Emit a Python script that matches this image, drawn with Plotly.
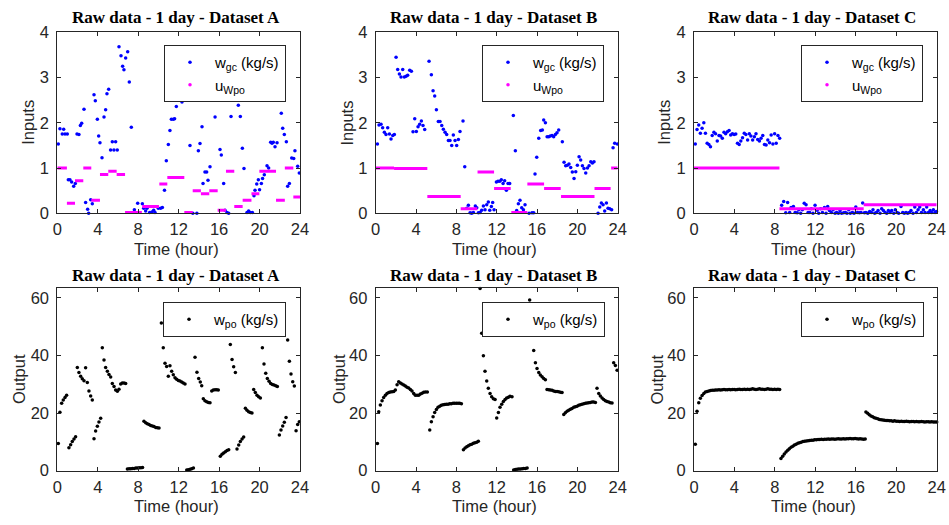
import plotly.graph_objects as go

# ---------------- data ----------------
TITLES = ["Raw data - 1 day - Dataset A", "Raw data - 1 day - Dataset B", "Raw data - 1 day - Dataset C"]
X_TICKS = [0, 4, 8, 12, 16, 20, 24]
Y_TICKS_IN = [0, 1, 2, 3, 4]
Y_TICKS_OUT = [0, 20, 40, 60]

# Dataset A
A_GC_T = [0.10,0.26,0.49,0.63,0.76,0.99,1.09,1.25,1.42,1.62,1.78,1.95,2.14,2.28,2.41,2.64,2.80,3.00,3.10,3.30,
          3.46,3.63,3.76,3.96,4.09,4.22,4.42,4.62,4.78,4.91,5.08,5.27,5.44,5.60,5.77,5.93,6.10,6.30,6.46,6.59,
          6.76,6.96,7.12,7.32,7.62,7.95,8.41,8.54,8.74,8.87,9.13,9.36,9.53,9.66,9.99,10.22,10.39,10.60,10.78,10.98,
          11.14,11.28,11.47,11.60,11.77,12.33,13.12,13.40,13.80,13.95,14.11,14.31,14.41,14.60,14.77,14.90,15.10,15.60,16.09,16.22,
          16.45,16.58,16.78,16.95,17.18,17.90,18.10,18.30,18.46,18.76,18.92,19.09,19.29,19.45,19.55,19.72,19.88,20.00,20.18,20.30,
          20.47,20.74,20.90,21.10,21.23,21.36,21.53,21.73,22.15,22.29,22.45,22.65,22.78,22.95,23.18,23.38,23.50,23.77,23.93]
A_GC_V = [1.53,1.87,1.75,1.86,1.75,1.75,0.74,0.74,0.69,0.60,0.66,1.75,1.74,1.94,1.99,2.30,0.24,0.09,0.00,0.30,
          0.21,2.62,2.49,2.08,1.71,1.56,1.23,2.13,2.29,2.64,2.74,1.40,1.58,1.40,1.58,1.40,3.68,3.48,3.25,3.17,
          3.43,3.57,2.90,1.90,0.08,0.22,0.21,0.11,0.05,0.11,0.02,0.03,0.07,0.02,0.11,0.11,0.13,0.51,1.16,1.52,
          1.83,2.08,2.08,2.09,2.36,2.46,1.50,0.00,0.00,1.38,1.54,1.91,0.66,0.91,0.91,0.73,1.03,2.13,1.41,1.29,
          0.66,0.07,0.02,0.00,2.14,2.39,2.14,1.44,0.99,0.02,0.05,0.02,0.02,0.39,0.51,0.65,0.74,0.52,0.66,0.77,
          0.85,1.05,1.00,1.57,1.55,1.57,1.47,1.56,2.21,1.88,1.74,1.58,0.60,0.66,1.22,1.21,1.38,1.04,0.89]
A_U_START = [0.00,0.95,1.75,2.57,3.36,4.22,5.04,5.87,6.70,8.40,10.09,10.88,12.56,13.39,14.20,15.03,15.86,16.68,17.50,18.33,19.20,19.98,21.63,22.50,23.34]
A_U_END   = [0.95,1.75,2.57,3.36,4.22,5.04,5.87,6.70,8.36,10.05,10.88,12.56,13.39,14.20,15.03,15.86,16.68,17.50,18.33,19.20,19.98,21.63,22.50,23.34,24.00]
A_U_VAL   = [1.00,0.22,0.72,1.00,0.29,0.86,0.93,0.86,0.02,0.15,0.65,0.79,0.02,0.50,0.43,0.50,0.07,0.93,0.15,0.29,0.43,0.93,0.29,1.00,0.36]
A_PO_T = [0.10,0.26,0.43,0.59,0.76,0.92,1.15,1.32,1.48,1.65,1.81,1.98,2.14,2.31,2.47,2.64,2.80,2.97,3.13,3.30,
          3.46,3.63,3.79,3.96,4.12,4.29,4.45,4.62,4.78,4.95,5.11,5.28,5.44,5.61,5.77,5.94,6.10,6.27,6.43,6.60,
          6.76,6.93,7.10,7.27,7.43,7.60,7.77,7.93,8.10,8.27,8.43,8.57,8.74,8.90,9.07,9.23,9.40,9.56,9.73,9.89,
          10.06,10.29,10.48,10.65,10.81,10.98,11.14,11.31,11.47,11.64,11.80,11.97,12.13,12.30,12.46,12.63,12.80,12.96,13.13,13.29,
          13.46,13.62,13.81,13.98,14.14,14.28,14.44,14.60,14.77,14.94,15.10,15.27,15.43,15.60,15.76,15.92,16.12,16.29,16.45,16.62,
          16.78,16.95,17.11,17.28,17.44,17.61,17.77,17.94,18.10,18.27,18.43,18.60,18.76,18.92,19.09,19.25,19.42,19.58,19.75,19.91,
          20.08,20.28,20.44,20.61,20.77,20.94,21.10,21.27,21.43,21.60,21.76,21.96,22.12,22.29,22.45,22.62,22.78,22.95,23.11,23.28,
          23.44,23.61,23.77,23.93]
A_PO_V = [9.4,20.3,23.4,24.5,25.4,26.2,8.0,9.0,10.1,11.0,11.8,35.8,34.1,32.8,31.9,31.2,35.7,30.6,27.7,25.9,
          24.5,11.1,13.8,15.4,16.9,18.2,42.7,38.4,35.8,34.5,33.4,32.5,30.3,29.2,28.0,27.6,28.3,30.1,30.4,30.4,
          30.3,0.6,0.7,0.7,0.8,0.8,0.9,0.9,1.0,1.0,1.1,17.2,16.6,16.3,16.0,15.7,15.5,15.3,15.0,14.9,
          14.8,51.3,42.7,37.3,36.2,32.8,36.4,34.5,33.3,32.3,31.7,31.3,31.1,30.8,30.4,30.1,0.2,0.3,0.5,0.7,
          0.9,39.4,34.2,32.0,30.8,29.5,25.0,24.3,23.9,23.7,23.6,27.7,28.0,28.1,28.1,28.0,5.0,5.7,6.1,6.6,
          7.0,7.3,43.8,38.6,36.1,34.1,7.5,8.9,10.1,11.0,11.7,21.7,21.0,20.5,20.2,20.0,28.2,27.1,26.2,25.7,
          25.2,42.7,37.0,33.8,32.0,31.0,30.3,29.9,29.7,29.5,29.2,12.4,14.1,15.5,16.8,18.5,45.4,38.0,33.6,30.9,
          29.4,13.9,16.0,17.0]

# Dataset B
B_GC_T = [0.17,0.33,0.53,0.69,0.86,1.02,1.19,1.36,1.52,1.69,1.85,2.02,2.18,2.35,2.51,2.68,2.84,3.01,3.17,3.37,
          3.54,3.70,3.87,4.03,4.20,4.36,4.53,4.69,4.86,5.29,5.52,5.69,5.85,6.02,6.21,6.38,6.55,6.71,6.88,7.04,
          7.21,7.37,7.54,7.70,7.87,8.03,8.20,8.36,8.66,8.83,9.03,9.19,9.36,9.52,9.69,9.88,10.02,10.18,10.35,10.51,
          10.68,10.84,11.01,11.17,11.31,11.47,11.60,11.74,11.97,12.13,12.30,12.46,12.63,12.79,12.96,13.12,13.29,13.65,13.85,13.98,
          14.15,14.31,14.48,14.65,14.81,15.21,15.50,15.67,15.80,15.97,16.17,16.36,16.53,16.66,16.83,17.00,17.16,17.32,17.49,17.65,
          17.82,17.98,18.15,18.51,18.68,18.84,19.01,19.17,19.34,19.50,19.67,19.84,20.00,20.17,20.33,20.50,20.66,20.83,21.00,21.16,
          21.33,21.49,21.65,22.05,22.22,22.38,22.55,22.71,22.88,23.04,23.21,23.40,23.54,23.70,23.97]
B_GC_V = [1.53,1.95,1.97,1.89,1.79,1.74,1.89,1.75,1.64,1.72,1.74,3.45,3.18,3.08,3.01,3.18,3.01,3.03,3.05,3.16,
          3.14,1.80,2.09,1.81,1.91,1.97,2.04,1.94,1.85,3.36,3.06,2.71,2.59,2.29,2.03,2.03,1.94,1.86,1.79,1.74,
          1.61,1.61,1.50,1.73,1.61,1.50,1.63,1.81,2.04,1.03,0.11,0.18,0.01,0.00,0.02,0.16,0.12,0.01,0.02,0.07,
          0.16,0.08,0.19,0.25,0.07,0.15,0.24,0.08,0.69,0.71,0.71,0.74,0.66,0.72,0.51,0.66,0.66,2.16,1.38,0.06,
          0.21,0.29,0.12,0.08,0.19,0.00,0.01,0.01,0.87,1.24,1.66,1.83,1.84,2.06,2.00,1.69,1.69,1.71,1.72,1.69,
          1.74,1.78,1.84,1.58,1.13,1.05,1.06,1.09,1.01,0.91,0.77,0.92,1.06,1.25,1.18,1.05,0.99,0.89,1.00,1.05,
          1.14,1.11,1.14,0.00,0.14,0.23,0.19,0.05,0.23,0.11,0.10,0.08,1.45,1.55,1.53]
B_U_START = [0.00,1.82,5.12,8.43,10.10,11.74,13.45,15.04,16.70,18.38,21.70,23.35]
B_U_END   = [1.82,5.12,8.43,10.08,11.74,13.39,15.04,16.70,18.35,21.70,23.30,24.00]
B_U_VAL   = [1.00,0.99,0.37,0.10,0.91,0.55,0.02,0.65,0.55,0.37,0.55,1.00]
B_PO_T = [0.17,0.30,0.46,0.63,0.79,0.96,1.12,1.29,1.45,1.62,1.79,1.95,2.12,2.28,2.45,2.61,2.78,2.94,3.11,3.27,
          3.44,3.60,3.77,3.93,4.10,4.27,4.43,4.60,4.76,4.93,5.12,5.36,5.52,5.69,5.85,6.02,6.18,6.35,6.51,6.68,
          6.84,7.00,7.17,7.34,7.50,7.67,7.83,8.00,8.17,8.33,8.50,8.70,8.86,9.03,9.19,9.36,9.52,9.69,9.85,10.02,
          10.18,10.35,10.51,10.68,10.84,11.01,11.17,11.34,11.50,11.67,11.84,12.00,12.17,12.33,12.50,12.66,12.83,12.99,13.16,13.32,
          13.52,13.68,13.85,14.02,14.18,14.35,14.52,14.68,14.85,15.02,15.27,15.67,15.84,16.00,16.17,16.33,16.50,16.66,16.83,16.99,
          17.16,17.32,17.49,17.65,17.82,17.98,18.15,18.32,18.48,18.65,18.81,18.98,19.14,19.31,19.47,19.64,19.80,19.97,20.13,20.30,
          20.46,20.63,20.80,20.96,21.13,21.29,21.46,21.62,21.79,21.95,22.12,22.28,22.45,22.61,22.78,22.94,23.11,23.27,23.44,23.60,
          23.77,23.94]
B_PO_V = [9.4,20.5,22.8,24.3,25.4,26.2,26.8,27.1,27.3,27.4,27.5,28.0,29.8,30.9,30.4,30.1,29.7,29.4,29.0,28.7,
          28.2,27.7,26.8,26.2,26.2,26.2,26.6,26.9,27.2,27.3,27.3,14.1,17.0,18.7,20.2,21.2,22.0,22.4,22.7,22.9,
          23.0,23.1,23.1,23.2,23.2,23.4,23.4,23.4,23.4,23.4,23.2,7.3,7.9,8.3,8.7,9.0,9.2,9.5,9.7,9.9,
          10.2,63.2,47.7,39.9,34.5,31.1,28.6,26.8,25.7,25.0,24.7,18.3,20.2,22.0,23.1,24.0,24.7,25.2,25.5,25.8,
          25.7,0.2,0.4,0.5,0.6,0.6,0.7,0.8,0.8,0.9,59.2,41.7,37.5,35.5,34.1,33.2,32.6,32.0,31.6,28.2,
          28.1,28.0,27.9,27.7,27.5,27.5,27.4,27.2,27.1,19.5,20.1,20.6,21.0,21.3,21.6,22.0,22.2,22.4,22.7,22.9,
          23.1,23.2,23.4,23.5,23.6,23.7,23.8,23.8,23.7,28.6,26.8,25.9,25.2,24.7,24.3,24.0,23.8,23.6,23.5,37.5,
          36.5,34.9]

# Dataset C
C_GC_T = [0.13,0.30,0.47,0.63,0.80,0.97,1.13,1.30,1.47,1.63,1.80,1.97,2.13,2.30,2.47,2.63,2.80,2.97,3.13,3.30,
          3.47,3.63,3.80,3.97,4.13,4.30,4.47,4.63,4.80,4.97,5.13,5.30,5.47,5.63,5.80,5.97,6.13,6.30,6.47,6.63,
          6.80,6.97,7.13,7.30,7.47,7.63,7.80,7.97,8.13,8.30,8.47,
          8.67,8.87,9.07,9.26,9.46,9.60,9.83,10.00,10.20,10.36,10.55,10.72,10.90,11.08,11.28,11.44,11.60,11.77,11.97,12.17,
          12.33,12.53,12.70,12.90,13.06,13.22,13.39,13.58,13.75,13.95,14.10,14.28,14.44,14.60,14.80,14.97,15.13,15.30,15.46,15.66,
          15.83,16.00,16.16,16.35,16.52,16.68,16.85,17.00,17.18,17.37,17.54,17.70,17.87,18.03,18.20,18.40,18.56,18.73,18.90,19.06,
          19.22,19.39,19.55,19.75,19.91,20.08,20.24,20.47,20.64,20.80,20.97,21.13,21.30,21.46,21.66,21.83,21.99,22.16,22.32,22.49,
          22.68,22.85,23.01,23.18,23.35,23.51,23.67,23.84,23.97]
C_GC_V = [1.53,1.85,1.95,1.77,1.88,2.00,1.77,1.55,1.52,1.47,1.72,1.79,1.76,1.60,1.72,1.71,1.66,1.79,1.76,1.80,
          1.83,1.73,1.76,1.74,1.75,1.55,1.52,1.60,1.67,1.77,1.74,1.62,1.76,1.71,1.62,1.69,1.76,1.63,1.60,1.66,
          1.72,1.52,1.51,1.62,1.56,1.73,1.53,1.76,1.55,1.72,1.66,
          0.18,0.26,0.01,0.24,0.02,0.13,0.15,0.02,0.01,0.08,0.00,0.08,0.22,0.19,0.02,0.02,0.10,0.00,0.18,0.07,
          0.00,0.10,0.02,0.13,0.00,0.15,0.06,0.02,0.08,0.00,0.02,0.00,0.06,0.00,0.01,0.02,0.00,0.08,0.00,0.02,
          0.00,0.14,0.02,0.01,0.02,0.23,0.01,0.02,0.00,0.04,0.02,0.08,0.00,0.02,0.06,0.00,0.10,0.06,0.02,0.00,
          0.06,0.02,0.06,0.00,0.08,0.02,0.00,0.15,0.02,0.00,0.02,0.00,0.02,0.06,0.00,0.14,0.02,0.08,0.14,0.02,
          0.08,0.02,0.14,0.02,0.06,0.02,0.08,0.02,0.04]
C_U_START = [0.00, 8.45, 16.78]
C_U_END   = [8.45, 16.78, 24.00]
C_U_VAL   = [1.00, 0.10, 0.19]
C_PO_T = [0.13,0.30,0.47,0.63,0.80,0.97,1.13,1.30,1.47,1.63,1.80,1.97,2.13,2.30,2.47,2.63,2.80,2.97,3.13,3.30,
          3.47,3.63,3.80,3.97,4.13,4.30,4.47,4.63,4.80,4.97,5.13,5.30,5.47,5.63,5.80,5.97,6.13,6.30,6.47,6.63,
          6.80,6.97,7.13,7.30,7.47,7.63,7.80,7.97,8.13,8.30,8.47,
          8.60,8.77,8.93,9.10,9.27,9.43,9.60,9.77,9.93,10.10,10.27,10.43,10.60,10.77,10.93,11.10,11.27,11.43,11.60,11.77,
          11.93,12.10,12.27,12.43,12.60,12.77,12.93,13.10,13.27,13.43,13.60,13.77,13.93,14.10,14.27,14.43,14.60,14.77,14.93,15.10,
          15.27,15.43,15.60,15.77,15.93,16.10,16.27,16.43,16.60,16.77,16.93,
          17.00,17.17,17.33,17.50,17.67,17.83,18.00,18.17,18.33,18.50,18.67,18.83,19.00,19.17,19.33,19.50,19.67,19.83,20.00,20.17,
          20.33,20.50,20.67,20.83,21.00,21.17,21.33,21.50,21.67,21.83,22.00,22.17,22.33,22.50,22.67,22.83,23.00,23.17,23.33,23.50,
          23.67,23.83,24.00]
C_PO_V = [9.2,20.6,23.6,25.1,26.1,26.8,27.3,27.5,27.7,27.8,27.9,27.9,28.0,28.0,28.1,28.0,28.1,28.2,28.1,28.1,
          28.2,28.1,28.2,28.2,28.1,28.2,28.3,28.2,28.2,28.3,28.2,28.3,28.2,28.3,28.4,28.3,28.2,28.3,28.4,28.3,
          28.3,28.2,28.3,28.4,28.3,28.3,28.2,28.3,28.2,28.3,28.2,
          4.2,5.0,5.8,6.5,7.1,7.6,8.1,8.5,8.9,9.2,9.5,9.7,9.9,10.1,10.2,10.3,10.4,10.5,10.6,10.6,
          10.7,10.7,10.8,10.8,10.9,10.8,10.9,10.9,11.0,10.9,11.0,11.0,10.9,11.0,11.1,11.0,11.0,11.1,11.0,11.1,
          11.1,11.2,11.1,11.1,11.2,11.1,11.0,11.1,11.0,10.9,11.0,
          20.4,19.9,19.4,19.0,18.7,18.4,18.2,18.0,17.8,17.7,17.6,17.5,17.4,17.4,17.3,17.3,17.2,17.3,17.2,17.2,
          17.1,17.2,17.1,17.1,17.2,17.1,17.0,17.1,17.1,17.0,17.1,17.0,17.0,17.1,17.0,16.9,17.0,17.0,16.9,17.0,
          16.9,16.9,16.9]

# ---------------- layout geometry ----------------
W, H = 949, 525
COLS_PX = [(57.3, 300.0), (375.7, 617.7), (694.0, 936.7)]
ROWS_PX = [(32.3, 213.3), (288.3, 470.7)]
YLAB_X = [[28, 346.7, 664], [18.5, 338.5, 656]]
LEG_PX = [[(164, 45), (482, 45), (801, 45)], [(163, 302), (482, 302), (801, 302)]]

BLUE = "#0000FF"
MAG = "#FF00FF"
AXC = "#262626"
SANS = "Liberation Sans, Arial, sans-serif"
SERIF = "Liberation Serif, Times New Roman, serif"

def fx(px):
    return px / W

def fy(py):
    return 1 - py / H

fig = go.Figure()

gc = [(A_GC_T, A_GC_V), (B_GC_T, B_GC_V), (C_GC_T, C_GC_V)]
uu = [(A_U_START, A_U_END, A_U_VAL), (B_U_START, B_U_END, B_U_VAL), (C_U_START, C_U_END, C_U_VAL)]
po = [(A_PO_T, A_PO_V), (B_PO_T, B_PO_V), (C_PO_T, C_PO_V)]

layout = dict(width=W, height=H, margin=dict(l=0, r=0, t=0, b=0, pad=0, autoexpand=False),
              paper_bgcolor="white", plot_bgcolor="white",
              font=dict(family=SANS, color=AXC), showlegend=True)
annotations = []

for r in range(2):
    for c in range(3):
        k = r * 3 + c + 1
        xa = "x" if k == 1 else f"x{k}"
        ya = "y" if k == 1 else f"y{k}"
        leg = "legend" if k == 1 else f"legend{k}"
        x0, x1 = COLS_PX[c]
        y0, y1 = ROWS_PX[r]
        axis_common = dict(showline=True, linecolor=AXC, linewidth=1, mirror="ticks",
                           ticks="inside", ticklen=4, tickcolor=AXC, tickwidth=1, automargin=False,
                           showgrid=False, zeroline=False, tickfont=dict(size=16.5, color=AXC, family=SANS))
        layout["xaxis" if k == 1 else f"xaxis{k}"] = dict(
            domain=[fx(x0), fx(x1)], anchor=ya, range=[0, 24], tickvals=X_TICKS,
            ticklabelstandoff=1, **axis_common)
        if r == 0:
            yr, yt = [0, 4], Y_TICKS_IN
        else:
            yr, yt = [0, 63.3], Y_TICKS_OUT
        layout["yaxis" if k == 1 else f"yaxis{k}"] = dict(
            domain=[fy(y1), fy(y0)], anchor=xa, range=yr, tickvals=yt,
            ticklabelstandoff=4, **axis_common)

        lx, ly = LEG_PX[r][c]
        layout[leg] = dict(x=fx(lx), y=fy(ly), xanchor="left", yanchor="top",
                           bgcolor="white", bordercolor=AXC, borderwidth=1,
                           font=dict(size=15, color="black", family=SANS),
                           itemwidth=40, tracegroupgap=0, traceorder="normal")

        if r == 0:
            t, v = gc[c]
            fig.add_trace(go.Scatter(x=t, y=v, mode="markers", name="w<sub>gc</sub> (kg/s)",
                                     marker=dict(color=BLUE, size=3.5), xaxis=xa, yaxis=ya,
                                     legend=leg, cliponaxis=False))
            s, e, val = uu[c]
            lxs, lys = [], []
            for a, b, vv in zip(s, e, val):
                lxs += [a, b, None]
                lys += [vv, vv, None]
            fig.add_trace(go.Scatter(x=lxs, y=lys, mode="lines", line=dict(color=MAG, width=3),
                                     xaxis=xa, yaxis=ya, showlegend=False, hoverinfo="skip"))
            fig.add_trace(go.Scatter(x=[None], y=[None], mode="markers", name="u<sub>Wpo</sub>",
                                     marker=dict(color=MAG, size=3.5), xaxis=xa, yaxis=ya, legend=leg))
            ylabel = "Inputs"
        else:
            t, v = po[c]
            fig.add_trace(go.Scatter(x=t, y=v, mode="markers", name="w<sub>po</sub> (kg/s)",
                                     marker=dict(color="black", size=3.5), xaxis=xa, yaxis=ya,
                                     legend=leg, cliponaxis=False))
            ylabel = "Output"

        cx = (x0 + x1) / 2
        title_y = 18 if r == 0 else 275
        xlab_y = 249 if r == 0 else 506
        annotations.append(dict(text="<b>" + TITLES[c] + "</b>", x=fx(cx - 3), y=fy(title_y),
                                xref="paper", yref="paper", xanchor="center", yanchor="middle",
                                showarrow=False, font=dict(family=SERIF, size=17, color="black")))
        annotations.append(dict(text="Time (hour)", x=fx(cx - 2), y=fy(xlab_y),
                                xref="paper", yref="paper", xanchor="center", yanchor="middle",
                                showarrow=False, font=dict(family=SANS, size=16.5, color=AXC)))
        annotations.append(dict(text=ylabel, x=fx(YLAB_X[r][c]), y=fy((y0 + y1) / 2),
                                xref="paper", yref="paper", xanchor="center", yanchor="middle",
                                textangle=-90, showarrow=False,
                                font=dict(family=SANS, size=16.5, color=AXC)))

layout["annotations"] = annotations
fig.update_layout(**layout)
fig.write_html("out.html")
